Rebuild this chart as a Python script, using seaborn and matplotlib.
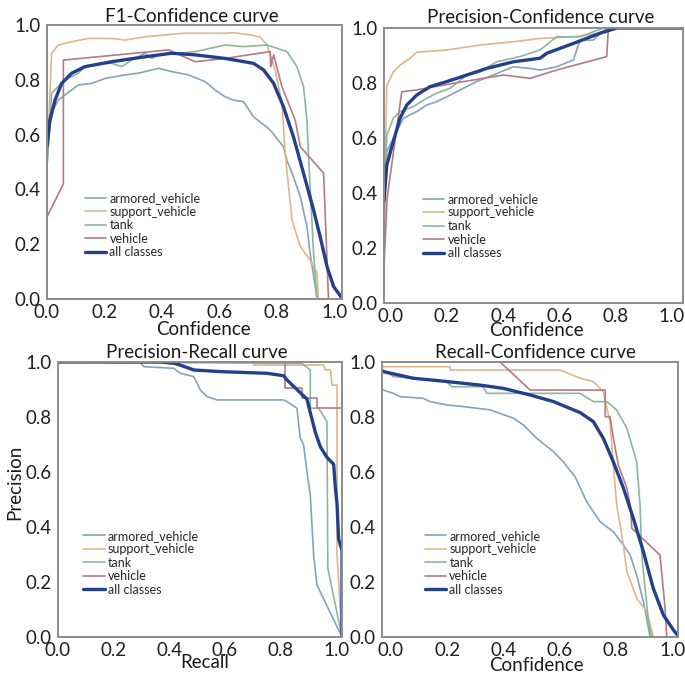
import matplotlib
matplotlib.use("Agg")
import matplotlib.pyplot as plt
import seaborn as sns

# ---------------- data ----------------
classes = ["armored_vehicle", "support_vehicle", "tank", "vehicle", "all classes"]

# F1-Confidence
f1_armored_x = [0.0, 0.010, 0.021, 0.039, 0.063, 0.109, 0.156, 0.202, 0.272, 0.318, 0.388, 0.434, 0.492, 0.551, 0.585, 0.620, 0.649, 0.684, 0.719, 0.777, 0.823, 0.835, 0.858, 0.882, 0.905, 0.916, 0.934, 0.940]
f1_armored_y = [0.49, 0.635, 0.69, 0.726, 0.745, 0.781, 0.787, 0.805, 0.818, 0.824, 0.842, 0.830, 0.818, 0.793, 0.763, 0.738, 0.726, 0.720, 0.665, 0.617, 0.556, 0.507, 0.446, 0.373, 0.264, 0.167, 0.045, 0.0]
f1_support_x = [0.0, 0.005, 0.016, 0.039, 0.086, 0.144, 0.225, 0.272, 0.341, 0.475, 0.620, 0.649, 0.707, 0.742, 0.766, 0.794, 0.818, 0.829, 0.841, 0.853, 0.882, 0.916, 0.940, 0.945]
f1_support_y = [0.55, 0.617, 0.897, 0.927, 0.939, 0.951, 0.951, 0.945, 0.957, 0.970, 0.970, 0.972, 0.964, 0.956, 0.927, 0.836, 0.715, 0.533, 0.410, 0.288, 0.191, 0.142, 0.095, 0.0]
f1_tank_x = [0.0, 0.016, 0.039, 0.063, 0.109, 0.132, 0.191, 0.225, 0.260, 0.295, 0.341, 0.365, 0.388, 0.457, 0.516, 0.620, 0.684, 0.766, 0.835, 0.870, 0.893, 0.905, 0.910, 0.928, 0.940]
f1_tank_y = [0.483, 0.751, 0.775, 0.799, 0.824, 0.848, 0.860, 0.860, 0.848, 0.872, 0.897, 0.878, 0.891, 0.897, 0.903, 0.927, 0.921, 0.927, 0.903, 0.848, 0.775, 0.653, 0.532, 0.168, 0.0]
f1_vehicle_x = [0.0, 0.057, 0.057, 0.423, 0.516, 0.620, 0.777, 0.779, 0.789, 0.818, 0.864, 0.882, 0.963, 0.980]
f1_vehicle_y = [0.30, 0.42, 0.872, 0.909, 0.866, 0.878, 0.903, 0.848, 0.891, 0.775, 0.653, 0.556, 0.459, 0.0]
f1_all_x = [0.0, 0.010, 0.028, 0.051, 0.086, 0.132, 0.225, 0.341, 0.434, 0.516, 0.620, 0.719, 0.754, 0.789, 0.823, 0.858, 0.893, 0.928, 0.951, 0.975, 0.998, 1.027]
f1_all_y = [0.556, 0.653, 0.726, 0.787, 0.824, 0.848, 0.866, 0.884, 0.897, 0.891, 0.878, 0.860, 0.836, 0.787, 0.702, 0.592, 0.459, 0.325, 0.227, 0.118, 0.045, 0.003]

# Precision-Confidence
pc_armored_x = [-0.023, -0.018, -0.013, 0.022, 0.046, 0.093, 0.129, 0.164, 0.212, 0.259, 0.306, 0.365, 0.436, 0.496, 0.531, 0.590, 0.650, 0.673, 0.720, 0.768, 1.039]
pc_armored_y = [0.20, 0.45, 0.55, 0.623, 0.672, 0.696, 0.720, 0.732, 0.756, 0.781, 0.805, 0.829, 0.859, 0.853, 0.847, 0.859, 0.884, 0.956, 0.956, 1.0, 1.0]
pc_support_x = [-0.023, -0.020, -0.013, 0.010, 0.034, 0.070, 0.093, 0.200, 0.318, 0.436, 0.531, 0.650, 0.744, 0.780, 1.039]
pc_support_y = [0.20, 0.45, 0.79, 0.84, 0.865, 0.890, 0.912, 0.920, 0.938, 0.950, 0.962, 0.968, 0.981, 1.0, 1.0]
pc_tank_x = [-0.023, -0.019, -0.013, 0.010, 0.034, 0.081, 0.117, 0.164, 0.212, 0.271, 0.318, 0.377, 0.460, 0.531, 0.590, 0.673, 0.757, 1.039]
pc_tank_y = [0.30, 0.44, 0.61, 0.672, 0.696, 0.714, 0.738, 0.763, 0.781, 0.829, 0.841, 0.877, 0.896, 0.920, 0.968, 0.968, 1.0, 1.0]
pc_vehicle_x = [-0.023, -0.012, 0.040, 0.093, 0.259, 0.401, 0.496, 0.590, 0.768, 0.774, 1.039]
pc_vehicle_y = [0.13, 0.38, 0.768, 0.775, 0.805, 0.829, 0.817, 0.847, 0.896, 1.0, 1.0]
pc_all_x = [-0.023, -0.013, 0.010, 0.034, 0.058, 0.093, 0.141, 0.200, 0.271, 0.342, 0.436, 0.531, 0.555, 0.650, 0.744, 0.804, 1.039]
pc_all_y = [0.37, 0.502, 0.587, 0.672, 0.720, 0.756, 0.787, 0.805, 0.829, 0.853, 0.877, 0.890, 0.908, 0.944, 0.981, 1.0, 1.0]

# Precision-Recall
pr_armored_x = [0.0, 0.296, 0.308, 0.416, 0.440, 0.488, 0.512, 0.536, 0.572, 0.811, 0.823, 0.859, 0.871, 0.883, 0.895, 0.907, 0.919, 0.931, 1.021]
pr_armored_y = [1.0, 1.0, 0.983, 0.977, 0.959, 0.947, 0.898, 0.874, 0.862, 0.862, 0.856, 0.832, 0.723, 0.698, 0.601, 0.516, 0.298, 0.189, 0.0]
pr_support_x = [0.0, 0.703, 0.703, 0.955, 0.960, 0.980, 0.985, 1.003, 1.003, 1.021]
pr_support_y = [1.0, 1.0, 0.989, 0.989, 0.971, 0.971, 0.916, 0.916, 0.30, 0.0]
pr_tank_x = [0.0, 0.877, 0.907, 0.907, 0.937, 0.967, 0.970, 1.021]
pr_tank_y = [1.0, 0.995, 0.971, 0.832, 0.832, 0.783, 0.25, 0.0]
pr_vehicle_x = [0.0, 0.817, 0.817, 0.877, 0.877, 0.931, 0.931, 1.021]
pr_vehicle_y = [1.0, 1.0, 0.904, 0.904, 0.868, 0.868, 0.832, 0.832]
pr_all_x = [0.0, 0.368, 0.420, 0.450, 0.488, 0.584, 0.751, 0.811, 0.823, 0.859, 0.895, 0.907, 0.925, 0.943, 0.967, 0.991, 0.997, 1.003, 1.009, 1.021, 1.021]
pr_all_y = [1.0, 1.0, 0.995, 0.985, 0.971, 0.965, 0.959, 0.950, 0.935, 0.900, 0.865, 0.816, 0.745, 0.692, 0.653, 0.628, 0.545, 0.486, 0.356, 0.315, 0.0]

# Recall-Confidence
rc_armored_x = [-0.032, -0.027, 0.008, 0.032, 0.115, 0.139, 0.198, 0.257, 0.352, 0.435, 0.471, 0.518, 0.578, 0.613, 0.655, 0.696, 0.744, 0.791, 0.827, 0.851, 0.874, 0.898, 0.922]
rc_armored_y = [0.90, 0.898, 0.886, 0.874, 0.868, 0.856, 0.844, 0.838, 0.826, 0.796, 0.771, 0.723, 0.674, 0.637, 0.583, 0.492, 0.419, 0.383, 0.334, 0.298, 0.225, 0.128, 0.0]
rc_support_x = [-0.032, 0.210, 0.210, 0.601, 0.673, 0.720, 0.755, 0.779, 0.791, 0.803, 0.827, 0.839, 0.874, 0.910, 0.933]
rc_support_y = [0.983, 0.983, 0.971, 0.971, 0.941, 0.929, 0.892, 0.783, 0.625, 0.480, 0.334, 0.238, 0.141, 0.092, 0.0]
rc_tank_x = [-0.032, -0.027, 0.008, 0.198, 0.216, 0.328, 0.341, 0.601, 0.673, 0.720, 0.768, 0.803, 0.839, 0.874, 0.886, 0.892, 0.916, 0.928]
rc_tank_y = [0.975, 0.971, 0.947, 0.929, 0.910, 0.910, 0.886, 0.886, 0.886, 0.856, 0.856, 0.825, 0.759, 0.637, 0.480, 0.298, 0.056, 0.0]
rc_vehicle_x = [-0.032, 0.388, 0.495, 0.762, 0.762, 0.779, 0.791, 0.809, 0.839, 0.851, 0.857, 0.957, 0.975, 0.981]
rc_vehicle_y = [1.0, 1.0, 0.898, 0.898, 0.801, 0.801, 0.723, 0.625, 0.541, 0.480, 0.395, 0.298, 0.105, 0.0]
rc_all_x = [-0.032, -0.027, 0.079, 0.198, 0.317, 0.400, 0.495, 0.578, 0.673, 0.720, 0.755, 0.791, 0.827, 0.862, 0.898, 0.933, 0.969, 1.005, 1.021]
rc_all_y = [0.966, 0.965, 0.941, 0.929, 0.916, 0.904, 0.880, 0.856, 0.816, 0.783, 0.723, 0.637, 0.541, 0.432, 0.310, 0.177, 0.080, 0.025, 0.005]

tick_values = [0.0, 0.2, 0.4, 0.6, 0.8, 1.0]
tick_labels = ["0.0", "0.2", "0.4", "0.6", "0.8", "1.0"]

# ---------------- style ----------------
colors = {
    "armored_vehicle": "#86a3bb",
    "support_vehicle": "#dcb78c",
    "tank": "#8fb59c",
    "vehicle": "#b47a88",
    "all classes": "#22408c",
}
widths = {"armored_vehicle": 1.2, "support_vehicle": 1.2, "tank": 1.2,
          "vehicle": 1.2, "all classes": 2.4}

sns.set_theme(style="white")
plt.rcParams["font.family"] = ["Lato", "DejaVu Sans"]

W, H = 685, 676
fig = plt.figure(figsize=(W / 100, H / 100), dpi=100)
fig.patch.set_facecolor("white")


def make_axes(left, top, right, bottom):
    return fig.add_axes([left / W, 1 - bottom / H, (right - left) / W, (bottom - top) / H])


panels = [
    dict(box=(47, 25, 342, 299), xlim=(0.0, 1.027), title="F1-Confidence curve",
         title_xy=(0.49, 1.011), xlabel="Confidence", xlabel_xy=(0.529, -0.113),
         ylabel=None, legend_xy=(0.129, 0.39),
         curves=[(f1_armored_x, f1_armored_y), (f1_support_x, f1_support_y),
                 (f1_tank_x, f1_tank_y), (f1_vehicle_x, f1_vehicle_y),
                 (f1_all_x, f1_all_y)]),
    dict(box=(384, 28, 683, 303), xlim=(-0.023, 1.039), title="Precision-Confidence curve",
         title_xy=(0.525, 1.018), xlabel="Confidence", xlabel_xy=(0.511, -0.099),
         ylabel=None, legend_xy=(0.131, 0.40),
         curves=[(pc_armored_x, pc_armored_y), (pc_support_x, pc_support_y),
                 (pc_tank_x, pc_tank_y), (pc_vehicle_x, pc_vehicle_y),
                 (pc_all_x, pc_all_y)]),
    dict(box=(58, 362, 342, 637), xlim=(0.0, 1.021), title="Precision-Recall curve",
         title_xy=(0.49, 1.015), xlabel="Recall", xlabel_xy=(0.518, -0.092),
         ylabel="Precision", legend_xy=(0.089, 0.39),
         curves=[(pr_armored_x, pr_armored_y), (pr_support_x, pr_support_y),
                 (pr_tank_x, pr_tank_y), (pr_vehicle_x, pr_vehicle_y),
                 (pr_all_x, pr_all_y)]),
    dict(box=(382, 362, 678, 637), xlim=(-0.032, 1.021), title="Recall-Confidence curve",
         title_xy=(0.52, 1.015), xlabel="Confidence", xlabel_xy=(0.523, -0.102),
         ylabel=None, legend_xy=(0.145, 0.39),
         curves=[(rc_armored_x, rc_armored_y), (rc_support_x, rc_support_y),
                 (rc_tank_x, rc_tank_y), (rc_vehicle_x, rc_vehicle_y),
                 (rc_all_x, rc_all_y)]),
]

for p in panels:
    ax = make_axes(*p["box"])
    ax.set_facecolor("white")
    for name, (xs, ys) in zip(classes, p["curves"]):
        sns.lineplot(x=xs, y=ys, ax=ax, sort=False, estimator=None,
                     color=colors[name], lw=widths[name], label=name)
    ax.set_xlim(*p["xlim"])
    ax.set_ylim(0, 1)
    ax.set_xticks(tick_values)
    ax.set_xticklabels(tick_labels)
    ax.set_yticks(tick_values)
    ax.set_yticklabels(tick_labels)
    ax.tick_params(axis="both", labelsize=13.5, colors="#1f1f1f", length=3, width=1,
                   direction="out")
    ax.tick_params(axis="x", pad=0.5)
    ax.tick_params(axis="y", pad=1.5)
    ax.tick_params(axis="both", color="#8c8c8c")
    for s in ax.spines.values():
        s.set_color("#8c8c8c")
        s.set_linewidth(1.4)

    tx, ty = p["title_xy"]
    ax.set_title(p["title"], x=tx, y=ty, pad=0, va="baseline", fontsize=13.5, color="#1a1a1a")

    ax.set_xlabel(p["xlabel"], fontsize=13.5, color="#1a1a1a")
    ax.xaxis.set_label_coords(*p["xlabel_xy"])
    ax.xaxis.label.set_va("center")
    if p["ylabel"]:
        ax.set_ylabel(p["ylabel"], fontsize=13.5, color="#1a1a1a")
        ax.yaxis.set_label_coords(-0.153, 0.564)
        ax.yaxis.label.set_va("center")
    else:
        ax.set_ylabel("")

    ax.legend(loc="upper left", bbox_to_anchor=p["legend_xy"], frameon=False,
              fontsize=9, borderpad=0, borderaxespad=0, handlelength=1.7,
              handletextpad=0.25, labelspacing=0.12)

fig.savefig("out.png", dpi=100, facecolor="white")
